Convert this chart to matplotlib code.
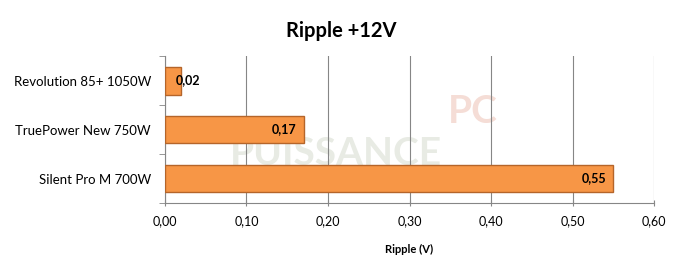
import matplotlib.pyplot as plt
from matplotlib.ticker import MultipleLocator, FuncFormatter

models = ["Revolution 85+ 1050W", "TruePower New 750W", "Silent Pro M 700W"]
ripple = [0.02, 0.17, 0.55]

plt.rcParams['font.family'] = ['Lato', 'DejaVu Sans']

fig = plt.figure(figsize=(6.82, 2.67), dpi=100)
ax = fig.add_axes([0.2419, 0.2397, 0.959 - 0.2419, 0.790 - 0.2397])

# watermark behind the bars
ax.text(0.35, 0.34, "PUISSANCE", transform=ax.transAxes, fontsize=28,
        fontweight='bold', color='#e8ebe4', ha='center', va='center', zorder=1)
ax.text(0.63, 0.62, "PC", transform=ax.transAxes, fontsize=28,
        fontweight='bold', color='#f5ddd6', ha='center', va='center', zorder=1)

pos = [2, 1, 0]
ax.barh(pos, ripple, height=0.57, color='#f79646', edgecolor='#b5652a',
        linewidth=1.0, zorder=3)

for p, v in zip(pos, ripple):
    txt = f"{v:.2f}".replace('.', ',')
    if v < 0.05:
        ax.annotate(txt, (0, p), xytext=(8, 0), textcoords='offset points',
                    ha='left', va='center', fontsize=9, fontweight='bold', zorder=4)
    else:
        ax.annotate(txt, (v, p), xytext=(-5, 0), textcoords='offset points',
                    ha='right', va='center', fontsize=9, fontweight='bold', zorder=4)

ax.set_xlim(0, 0.6)
ax.set_ylim(-0.5, 2.5)
ax.xaxis.set_major_locator(MultipleLocator(0.1))
ax.xaxis.set_major_formatter(FuncFormatter(lambda x, _: f"{x:.2f}".replace('.', ',')))
ax.set_yticks(pos)
ax.set_yticklabels(models, fontsize=9.5)
ax.set_yticks([-0.5, 0.5, 1.5, 2.5], minor=True)
ax.tick_params(axis='y', which='major', length=0, pad=10)
ax.tick_params(axis='y', which='minor', length=4, direction='out', color='#868686')
ax.tick_params(axis='x', length=5, direction='inout', color='#868686', labelsize=9, pad=6)

ax.grid(axis='x', color='#868686', linewidth=0.8, zorder=2)
for s in ['top', 'right']:
    ax.spines[s].set_visible(False)
for s in ['left', 'bottom']:
    ax.spines[s].set_color('#868686')
ax.patch.set_alpha(0)

ax.set_xlabel("Ripple (V)", fontsize=8, fontweight='bold', labelpad=12)
fig.suptitle("Ripple +12V", fontsize=14.5, fontweight='bold', y=0.92)

fig.savefig("out.png", dpi=100)
